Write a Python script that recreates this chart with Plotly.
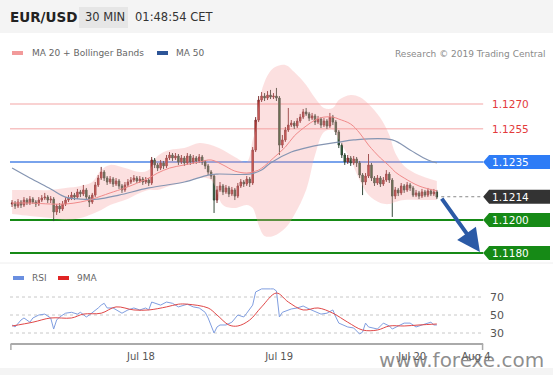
import plotly.graph_objects as go

# ---------------- data (30-min candles, EUR/USD) ----------------
OPEN = [1.12096, 1.12102, 1.12084, 1.12108, 1.12090, 1.12120, 1.12102, 1.12126, 1.12108, 1.12096,
        1.12120, 1.12132, 1.12138, 1.12120, 1.12126, 1.12048, 1.12084, 1.12066, 1.12096, 1.12120,
        1.12132, 1.12150, 1.12138, 1.12169, 1.12157, 1.12181, 1.12138, 1.12108, 1.12150, 1.12211,
        1.12253, 1.12289, 1.12253, 1.12229, 1.12247, 1.12217, 1.12235, 1.12205, 1.12181, 1.12211,
        1.12229, 1.12241, 1.12253, 1.12235, 1.12247, 1.12229, 1.12241, 1.12223, 1.12362, 1.12332,
        1.12313, 1.12344, 1.12326, 1.12374, 1.12392, 1.12374, 1.12386, 1.12350, 1.12374, 1.12344,
        1.12386, 1.12350, 1.12374, 1.12356, 1.12380, 1.12350, 1.12326, 1.12289, 1.12265, 1.12120,
        1.12181, 1.12205, 1.12169, 1.12193, 1.12157, 1.12181, 1.12144, 1.12205, 1.12229, 1.12217,
        1.12247, 1.12223, 1.12422, 1.12603, 1.12724, 1.12748, 1.12736, 1.12754, 1.12742, 1.12748,
        1.12736, 1.12452, 1.12483, 1.12543, 1.12573, 1.12585, 1.12567, 1.12597, 1.12621, 1.12652,
        1.12640, 1.12615, 1.12628, 1.12591, 1.12609, 1.12573, 1.12597, 1.12567, 1.12621, 1.12591,
        1.12531, 1.12452, 1.12392, 1.12350, 1.12374, 1.12344, 1.12368, 1.12344, 1.12271, 1.12229,
        1.12265, 1.12332, 1.12253, 1.12223, 1.12253, 1.12217, 1.12241, 1.12277, 1.12241, 1.12144,
        1.12181, 1.12163, 1.12205, 1.12181, 1.12211, 1.12193, 1.12150, 1.12163, 1.12144, 1.12169,
        1.12150, 1.12175, 1.12157, 1.12169]
HIGH = [1.12120, 1.12114, 1.12126, 1.12120, 1.12138, 1.12132, 1.12144, 1.12138, 1.12120, 1.12138,
        1.12150, 1.12163, 1.12150, 1.12144, 1.12138, 1.12096, 1.12102, 1.12114, 1.12138, 1.12150,
        1.12169, 1.12163, 1.12187, 1.12181, 1.12211, 1.12193, 1.12150, 1.12163, 1.12229, 1.12271,
        1.12320, 1.12301, 1.12265, 1.12265, 1.12259, 1.12253, 1.12247, 1.12217, 1.12229, 1.12247,
        1.12259, 1.12271, 1.12265, 1.12265, 1.12259, 1.12259, 1.12253, 1.12380, 1.12374, 1.12344,
        1.12362, 1.12356, 1.12392, 1.12410, 1.12404, 1.12404, 1.12398, 1.12392, 1.12386, 1.12404,
        1.12398, 1.12392, 1.12386, 1.12398, 1.12392, 1.12362, 1.12338, 1.12301, 1.12277, 1.12205,
        1.12229, 1.12217, 1.12211, 1.12205, 1.12199, 1.12193, 1.12223, 1.12247, 1.12241, 1.12265,
        1.12259, 1.12440, 1.12621, 1.12748, 1.12772, 1.12766, 1.12778, 1.12785, 1.12766, 1.12797,
        1.12748, 1.12513, 1.12561, 1.12676, 1.12603, 1.12597, 1.12615, 1.12640, 1.12670, 1.12676,
        1.12652, 1.12646, 1.12640, 1.12628, 1.12621, 1.12615, 1.12609, 1.12646, 1.12634, 1.12603,
        1.12543, 1.12464, 1.12404, 1.12392, 1.12386, 1.12386, 1.12380, 1.12356, 1.12283, 1.12283,
        1.12398, 1.12344, 1.12265, 1.12271, 1.12265, 1.12259, 1.12301, 1.12289, 1.12253, 1.12199,
        1.12193, 1.12223, 1.12217, 1.12229, 1.12223, 1.12205, 1.12181, 1.12175, 1.12187, 1.12181,
        1.12193, 1.12187, 1.12187, 1.12181]
LOW = [1.12078, 1.12066, 1.12072, 1.12072, 1.12078, 1.12090, 1.12090, 1.12096, 1.12078, 1.12084,
       1.12108, 1.12120, 1.12102, 1.12102, 1.11993, 1.12030, 1.12042, 1.12054, 1.12084, 1.12108,
       1.12120, 1.12120, 1.12126, 1.12138, 1.12144, 1.12126, 1.12078, 1.12096, 1.12138, 1.12199,
       1.12241, 1.12235, 1.12211, 1.12217, 1.12199, 1.12205, 1.12187, 1.12163, 1.12169, 1.12199,
       1.12217, 1.12229, 1.12223, 1.12223, 1.12211, 1.12217, 1.12205, 1.12211, 1.12313, 1.12295,
       1.12301, 1.12307, 1.12313, 1.12362, 1.12356, 1.12362, 1.12332, 1.12338, 1.12326, 1.12332,
       1.12332, 1.12338, 1.12338, 1.12344, 1.12332, 1.12307, 1.12271, 1.12247, 1.12042, 1.12102,
       1.12169, 1.12150, 1.12157, 1.12138, 1.12144, 1.12120, 1.12132, 1.12193, 1.12199, 1.12205,
       1.12199, 1.12211, 1.12410, 1.12591, 1.12712, 1.12718, 1.12724, 1.12730, 1.12730, 1.12718,
       1.12392, 1.12434, 1.12471, 1.12531, 1.12561, 1.12549, 1.12555, 1.12585, 1.12609, 1.12628,
       1.12597, 1.12603, 1.12573, 1.12579, 1.12555, 1.12561, 1.12549, 1.12555, 1.12573, 1.12513,
       1.12434, 1.12374, 1.12332, 1.12338, 1.12326, 1.12332, 1.12320, 1.12253, 1.12150, 1.12211,
       1.12253, 1.12235, 1.12205, 1.12211, 1.12199, 1.12205, 1.12229, 1.12223, 1.12018, 1.12126,
       1.12144, 1.12150, 1.12163, 1.12169, 1.12175, 1.12138, 1.12138, 1.12126, 1.12132, 1.12138,
       1.12138, 1.12144, 1.12144, 1.12126]
CLOSE = [1.12102, 1.12084, 1.12108, 1.12090, 1.12120, 1.12102, 1.12126, 1.12108, 1.12096, 1.12120,
         1.12132, 1.12138, 1.12120, 1.12126, 1.12048, 1.12084, 1.12066, 1.12096, 1.12120, 1.12132,
         1.12150, 1.12138, 1.12169, 1.12157, 1.12181, 1.12138, 1.12108, 1.12150, 1.12211, 1.12253,
         1.12289, 1.12253, 1.12229, 1.12247, 1.12217, 1.12235, 1.12205, 1.12181, 1.12211, 1.12229,
         1.12241, 1.12253, 1.12235, 1.12247, 1.12229, 1.12241, 1.12223, 1.12362, 1.12332, 1.12313,
         1.12344, 1.12326, 1.12374, 1.12392, 1.12374, 1.12386, 1.12350, 1.12374, 1.12344, 1.12386,
         1.12350, 1.12374, 1.12356, 1.12380, 1.12350, 1.12326, 1.12289, 1.12265, 1.12120, 1.12181,
         1.12205, 1.12169, 1.12193, 1.12157, 1.12181, 1.12144, 1.12205, 1.12229, 1.12217, 1.12247,
         1.12223, 1.12422, 1.12603, 1.12724, 1.12748, 1.12736, 1.12754, 1.12742, 1.12748, 1.12736,
         1.12452, 1.12483, 1.12543, 1.12573, 1.12585, 1.12567, 1.12597, 1.12621, 1.12652, 1.12640,
         1.12615, 1.12628, 1.12591, 1.12609, 1.12573, 1.12597, 1.12567, 1.12621, 1.12591, 1.12531,
         1.12452, 1.12392, 1.12350, 1.12374, 1.12344, 1.12368, 1.12344, 1.12271, 1.12229, 1.12265,
         1.12332, 1.12253, 1.12223, 1.12253, 1.12217, 1.12241, 1.12277, 1.12241, 1.12144, 1.12181,
         1.12163, 1.12205, 1.12181, 1.12211, 1.12193, 1.12150, 1.12163, 1.12144, 1.12169, 1.12150,
         1.12175, 1.12157, 1.12169, 1.12138]

# MA 20 + Bollinger bands (read at candle indices)
BAND_X = [0, 6, 13, 18, 23, 27, 30, 33, 38, 43, 46, 49, 53, 58, 63, 67, 71, 75, 79, 81,
          82, 83, 85, 88, 92, 95, 99, 102, 105, 108, 110, 114, 117, 120, 124, 127, 129, 132, 137, 143]
MA20 = [1.12102, 1.12102, 1.12096, 1.12096, 1.12108, 1.12126, 1.12144, 1.12163, 1.12193, 1.12229,
        1.12253, 1.12283, 1.12313, 1.12332, 1.12350, 1.12362, 1.12332, 1.12295, 1.12283, 1.12289,
        1.12295, 1.12301, 1.12326, 1.12374, 1.12440, 1.12507, 1.12567, 1.12603, 1.12621, 1.12621,
        1.12609, 1.12579, 1.12525, 1.12452, 1.12374, 1.12326, 1.12289, 1.12253, 1.12205, 1.12175]
UPPER = [1.12181, 1.12181, 1.12181, 1.12193, 1.12205, 1.12229, 1.12301, 1.12332, 1.12313, 1.12289,
         1.12301, 1.12386, 1.12422, 1.12434, 1.12464, 1.12452, 1.12422, 1.12380, 1.12350, 1.12483,
         1.12543, 1.12694, 1.12833, 1.12917, 1.12936, 1.12893, 1.12815, 1.12736, 1.12676, 1.12676,
         1.12724, 1.12754, 1.12742, 1.12700, 1.12615, 1.12513, 1.12404, 1.12326, 1.12271, 1.12235]
LOWER = [1.12036, 1.12024, 1.12011, 1.11999, 1.12011, 1.12036, 1.12060, 1.12090, 1.12120, 1.12163,
         1.12181, 1.12181, 1.12205, 1.12229, 1.12253, 1.12241, 1.12090, 1.12072, 1.12090, 1.12072,
         1.12030, 1.11969, 1.11903, 1.11903, 1.11951, 1.12030, 1.12181, 1.12392, 1.12531, 1.12543,
         1.12483, 1.12362, 1.12241, 1.12150, 1.12102, 1.12096, 1.12108, 1.12120, 1.12120, 1.12120]

# MA 50
MA50_X = [0, 6, 13, 18, 23, 29, 36, 46, 58, 66, 69, 80, 84, 87, 94, 100, 110, 115, 128, 134, 140, 143]
MA50 = [1.12313, 1.12253, 1.12187, 1.12138, 1.12126, 1.12126, 1.12150, 1.12193, 1.12229, 1.12271, 1.12277,
        1.12277, 1.12301, 1.12344, 1.12410, 1.12440, 1.12470, 1.12483, 1.12483, 1.12422, 1.12362, 1.12344]

# RSI and its 9-period MA
RSI_X = [0, 1, 3, 4, 6, 7, 9, 11, 13, 14, 15, 16, 18, 20, 22, 23, 25, 26, 29, 30, 31, 32, 34, 37, 39,
         41, 43, 45, 46, 47, 50, 52, 54, 56, 59, 61, 63, 65, 66, 68, 69, 70, 72, 74, 76, 78, 79, 81,
         82, 84, 87, 88, 89, 90, 91, 94, 96, 98, 100, 103, 104, 106, 108, 109, 110, 113, 115, 117,
         118, 119, 120, 123, 125, 127, 128, 130, 132, 134, 136, 138, 141, 142, 143]
RSI = [38.9, 36.7, 44.4, 46.7, 42, 46.7, 50, 51, 46.7, 34.4, 44.4, 47.8, 52, 53, 51, 53, 47.8, 50,
       57.8, 61, 63, 57.8, 57.8, 52, 55.6, 57.8, 55.6, 57.8, 55.6, 64.4, 61, 64.4, 63, 59, 62, 59,
       57.8, 53, 46.7, 30, 36.7, 38.9, 38.9, 42, 50, 47.8, 52, 61, 75.6, 79, 79, 79, 76.7, 47.8, 53,
       56.7, 57.8, 60, 56.7, 53, 51, 52, 55.6, 47.8, 41, 36.7, 35.6, 28.9, 31, 41, 36.7, 34.4, 41,
       37.8, 34.4, 37.8, 41, 41, 36.7, 38.9, 42, 38.9, 38.9]
RSI9_X = [0, 7, 13, 20, 24, 30, 35, 41, 46, 52, 56, 59, 66, 69, 73, 76, 80, 84, 89, 93, 98, 103,
          108, 113, 118, 123, 127, 132, 137, 143]
RSI9 = [37.8, 42, 46.7, 46.7, 51, 52, 59, 55.6, 55.6, 59, 62, 62, 57.8, 50, 38.9, 37.8, 44.4, 59,
        74.4, 64.4, 55.6, 57.8, 52, 42, 33.3, 33.3, 37.8, 37.8, 38.9, 40]
RSI_LEVELS = [70, 50, 30]

TICK_POS = [43.4, 89.9, 134.7, 156.2]
TICK_TEXT = ["Jul 18", "Jul 19", "Jul 20", "Aug 4"]

LEVELS = [1.1270, 1.1255, 1.1235, 1.1214, 1.1200, 1.1180]
LEVEL_TEXT = ["1.1270", "1.1255", "1.1235", "1.1214", "1.1200", "1.1180"]
TARGET = 1.1180

# ---------------- layout geometry ----------------
W, H = 553, 375
ML, MR = 10, 3
PW = W - ML - MR
X0, X1 = -0.7, 181.1          # x-range (candle index units)
AXIS_END = 158.6              # end of the time axis
TAG_BODY = 160.6              # start of the price tag body
FONT = "DejaVu Sans"


def px(x):
    return (x - ML) / PW


def py(y):
    return 1 - y / H


fig = go.Figure()

# Bollinger band fill
fig.add_trace(go.Scatter(x=BAND_X, y=LOWER, mode="lines", line=dict(width=0, shape="spline"),
                         hoverinfo="skip", showlegend=False))
fig.add_trace(go.Scatter(x=BAND_X, y=UPPER, mode="lines", line=dict(width=0, shape="spline"),
                         fill="tonexty", fillcolor="rgba(246,160,160,0.32)",
                         hoverinfo="skip", showlegend=False))
fig.add_trace(go.Scatter(x=MA50_X, y=MA50, mode="lines",
                         line=dict(color="#8595b2", width=1.2, shape="spline"), showlegend=False))
fig.add_trace(go.Scatter(x=BAND_X, y=MA20, mode="lines",
                         line=dict(color="#f08a8a", width=1, shape="spline"), showlegend=False))
fig.add_trace(go.Candlestick(
    x=list(range(len(CLOSE))), open=OPEN, high=HIGH, low=LOW, close=CLOSE,
    increasing=dict(fillcolor="#e23a36", line=dict(color="#7d3030", width=1)),
    decreasing=dict(fillcolor="#1e6b2a", line=dict(color="#34493a", width=1)),
    showlegend=False))

# RSI panel
fig.add_trace(go.Scatter(x=RSI_X, y=RSI, yaxis="y2", mode="lines",
                         line=dict(color="#809ee0", width=1), showlegend=False))
fig.add_trace(go.Scatter(x=RSI9_X, y=RSI9, yaxis="y2", mode="lines",
                         line=dict(color="#e04848", width=1, shape="spline"), showlegend=False))

shapes = []
annotations = []


def text(x, y, s, size, color, anchor="left", bold=False, **kw):
    d = dict(x=x, y=y, xref="paper", yref="paper", text=("<b>%s</b>" % s) if bold else s,
             showarrow=False, xanchor=anchor, yanchor="middle", borderpad=0, borderwidth=0,
             font=dict(family=FONT, size=size, color=color))
    d.update(kw)
    annotations.append(d)


# header bar
shapes.append(dict(type="rect", xref="paper", yref="paper", x0=px(0), x1=px(W), y0=py(33), y1=py(0),
                   fillcolor="#f4f4f4", line=dict(width=0), layer="below"))
shapes.append(dict(type="rect", xref="paper", yref="paper", x0=px(79), x1=px(128), y0=py(28), y1=py(7),
                   fillcolor="#e6e6e6", line=dict(width=0), layer="below"))
shapes.append(dict(type="rect", xref="paper", yref="paper", x0=px(0), x1=px(W), y0=py(375), y1=py(368),
                   fillcolor="#f4f4f4", line=dict(width=0), layer="below"))
shapes.append(dict(type="line", xref="paper", yref="paper", x0=px(0), x1=px(W), y0=py(263), y1=py(263),
                   line=dict(color="#eeeeee", width=1), layer="below"))
text(px(10), py(17), "EUR/USD", 13.5, "#222222", bold=True)
text(px(85), py(17), "30 MIN", 11.5, "#333333")
text(px(135), py(17), "01:48:54 CET", 11.5, "#333333")

# legends
for x0, col in [(12, "#f29a9a"), (157, "#2d5597"), (13, "#6a8fe0"), (58, "#e02424")]:
    yy = 53 if col in ("#f29a9a", "#2d5597") else 278
    shapes.append(dict(type="rect", xref="paper", yref="paper", x0=px(x0), x1=px(x0 + 11),
                       y0=py(yy + 2), y1=py(yy - 2), fillcolor=col, line=dict(width=0)))
text(px(32), py(53), "MA 20 + Bollinger Bands", 9, "#666666")
text(px(176), py(53), "MA 50", 9, "#666666")
text(px(545), py(54), "Research © 2019 Trading Central", 9, "#8a8a8a", anchor="right")
text(px(32), py(278), "RSI", 9, "#666666")
text(px(77), py(278), "9MA", 9, "#666666")

# price levels
LEVEL_STYLE = [
    dict(line="#f3a5a5", w=1, tag=None, txt="#e33b3b"),
    dict(line="#f3a5a5", w=1, tag=None, txt="#e33b3b"),
    dict(line="#4d85e6", w=1.5, tag="#2e7cf6", txt="#ffffff"),
    dict(line="#888888", w=1, tag="#333333", txt="#ffffff", dot=True),
    dict(line="#168a16", w=2, tag="#168a16", txt="#ffffff"),
    dict(line="#168a16", w=2, tag="#168a16", txt="#ffffff"),
]
HALF = 0.00042
for lv, lab, st in zip(LEVELS, LEVEL_TEXT, LEVEL_STYLE):
    if st.get("dot"):
        shapes.append(dict(type="line", xref="x", yref="y", x0=len(CLOSE) + 0.5, x1=AXIS_END,
                           y0=lv, y1=lv, line=dict(color=st["line"], width=1, dash="dot")))
    else:
        shapes.append(dict(type="line", xref="x", yref="y", x0=X0, x1=AXIS_END, y0=lv, y1=lv,
                           line=dict(color=st["line"], width=st["w"]), layer="below"))
    if st["tag"]:
        path = "M %f,%f L %f,%f L %f,%f L %f,%f L %f,%f Z" % (
            AXIS_END, lv, TAG_BODY, lv + HALF, X1, lv + HALF, X1, lv - HALF, TAG_BODY, lv - HALF)
        shapes.append(dict(type="path", xref="x", yref="y", path=path, fillcolor=st["tag"],
                           line=dict(width=0)))
    annotations.append(dict(x=161.5, y=lv, xref="x", yref="y", text=lab, showarrow=False,
                            xanchor="left", yanchor="middle", borderpad=0, borderwidth=0,
                            font=dict(family=FONT, size=10.5, color=st["txt"])))

# forecast arrow
annotations.append(dict(x=157.5, y=TARGET + 0.00006, xref="x", yref="y", ax=len(CLOSE) + 0.3,
                        ay=CLOSE[-1], axref="x", ayref="y", text="", showarrow=True, arrowhead=2,
                        arrowsize=1.15, arrowwidth=4, arrowcolor="#2b5aa6", standoff=0))

# RSI grid + labels
for lv in RSI_LEVELS:
    shapes.append(dict(type="line", xref="x", yref="y2", x0=X0, x1=AXIS_END, y0=lv, y1=lv,
                       line=dict(color="#c8c8c8", width=1, dash="dot"), layer="below"))
    annotations.append(dict(x=161.0, y=lv, xref="x", yref="y2", text=str(lv), showarrow=False,
                            xanchor="left", yanchor="middle", borderpad=0, borderwidth=0,
                            font=dict(family=FONT, size=11, color="#555555")))

# time axis line with end ticks
shapes.append(dict(type="line", xref="x", yref="paper", x0=X0 + 0.2, x1=AXIS_END, y0=py(344), y1=py(344),
                   line=dict(color="#aaaaaa", width=2)))
for xe in (X0 + 0.3, AXIS_END - 0.2):
    shapes.append(dict(type="line", xref="x", yref="paper", x0=xe, x1=xe, y0=py(344), y1=py(350),
                       line=dict(color="#aaaaaa", width=1.5)))

# watermark
text(px(461), py(360), "www.forexe.com", 20, "rgba(105,105,105,0.75)", anchor="center")

fig.update_layout(
    width=W, height=H, margin=dict(l=ML, r=MR, t=0, b=0),
    paper_bgcolor="white", plot_bgcolor="rgba(0,0,0,0)",
    font=dict(family=FONT),
    showlegend=False,
    shapes=shapes, annotations=annotations,
    xaxis=dict(domain=[0, 1], range=[X0, X1], anchor="y2", tickvals=TICK_POS, ticktext=TICK_TEXT,
               tickfont=dict(family=FONT, size=10, color="#555555"), showgrid=False, zeroline=False,
               showline=False, ticks="", ticklabelstandoff=5, rangeslider=dict(visible=False),
               fixedrange=True),
    yaxis=dict(domain=[py(262), py(60)], range=[1.117459, 1.129657], visible=False, fixedrange=True),
    yaxis2=dict(domain=[py(344), py(285)], range=[17.78, 83.33], visible=False, fixedrange=True),
)

fig.write_html("out.html", config={"displayModeBar": False},
               post_script="document.body.style.margin='0px';")
